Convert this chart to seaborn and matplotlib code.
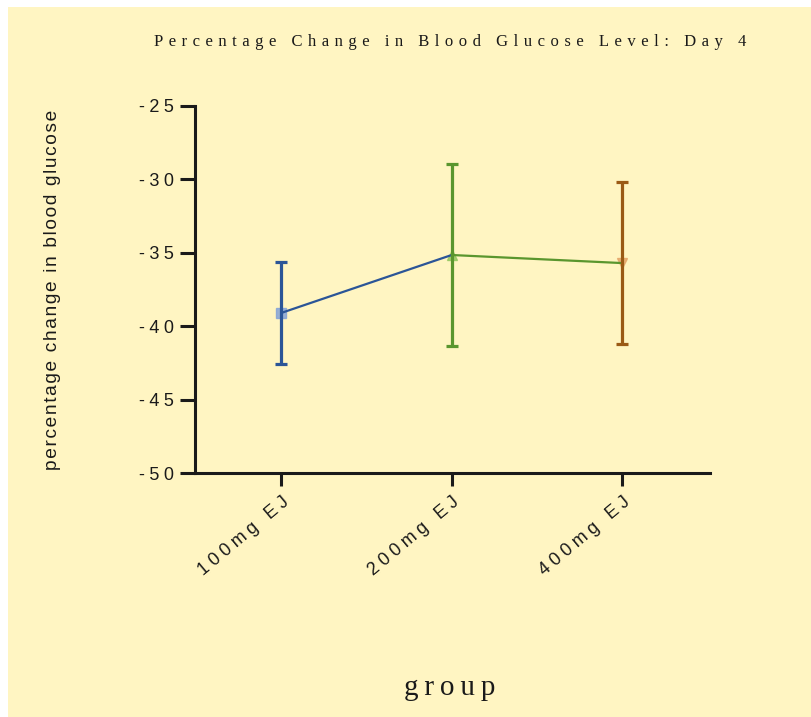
import numpy as np
import pandas as pd
import seaborn as sns
import matplotlib.pyplot as plt
from matplotlib.patches import Rectangle

groups = ['100mg EJ', '200mg EJ', '400mg EJ']
means = [-39.1, -35.15, -35.7]
errs = [3.5, 6.2, 5.5]
line_colors = ['#2b5597', '#5a962e', '#9a5a15']
marker_colors = ['#7f9fd8', '#8fc65c', '#e3a366']
markers = ['s', '^', 'v']
yticks = [-50, -45, -40, -35, -30, -25]

bg = '#fff5c2'
ink = '#1a1a1a'
serif = ['Liberation Serif', 'DejaVu Serif']


def spaced(s, sep='\u2009'):
    return sep.join(s)


sns.set_theme(style='ticks')
plt.rcParams['font.family'] = ['Liberation Sans', 'DejaVu Sans']

fig = plt.figure(figsize=(8.12, 7.17), dpi=100)
fig.patch.set_facecolor('white')
fig.patches.append(Rectangle((8 / 812, 0), 1, 1 - 7 / 717, transform=fig.transFigure,
                             facecolor=bg, edgecolor='none', zorder=-5))

ax = fig.add_axes([195 / 812, 1 - 473 / 717, 515 / 812, 367 / 717])
ax.set_facecolor('none')

x = np.arange(len(groups))

# connecting segments, each coloured like the group it starts from
seg = pd.DataFrame({
    'x': [x[0], x[1], x[1], x[2]],
    'y': [means[0], means[1], means[1], means[2]],
    'seg': ['a', 'a', 'b', 'b'],
})
sns.lineplot(data=seg, x='x', y='y', hue='seg', palette=line_colors[:2],
             linewidth=1.6, legend=False, ax=ax, zorder=2)

for i in range(len(groups)):
    ax.plot(x[i], means[i], marker=markers[i], markersize=7, color=marker_colors[i],
            alpha=0.8, linestyle='none', zorder=1)
    ax.errorbar(x[i], means[i], yerr=errs[i], fmt='none', ecolor=line_colors[i],
                elinewidth=2.3, capsize=4, capthick=2.3, zorder=3)

ax.set_xlim(-0.505, 2.515)
ax.set_ylim(-50, -25)
ax.set_yticks(yticks)
ax.set_yticklabels([spaced(str(t), '\u2005') for t in yticks], fontsize=13)
ax.set_xticks(x)
ax.set_xticklabels([spaced(g, '\u2005') for g in groups], fontsize=13, rotation=40,
                   ha='right', rotation_mode='anchor')

ax.tick_params(axis='y', length=11, width=2.2, color=ink, pad=4, labelcolor=ink)
ax.tick_params(axis='x', length=9, width=2.2, color=ink, pad=6, labelcolor=ink)
sns.despine(ax=ax)
for sp in ['left', 'bottom']:
    ax.spines[sp].set_linewidth(2.2)
    ax.spines[sp].set_color(ink)

ax.set_xlabel('')
ax.set_ylabel('')

fig.text(53 / 812, 1 - 290 / 717, spaced('percentage change in blood glucose', '\u200a'),
         rotation=90, ha='center', va='center', fontsize=13.8, color=ink)
fig.text(450 / 812, 1 - 42 / 717, spaced('Percentage Change in Blood Glucose Level: Day 4', '\u2004'),
         ha='center', va='center', fontsize=12, color=ink, family=serif)
fig.text(450 / 812, 1 - 688 / 717, spaced('group'), ha='center', va='center',
         fontsize=21, color=ink, family=serif)

fig.savefig('out.png', dpi=100)
